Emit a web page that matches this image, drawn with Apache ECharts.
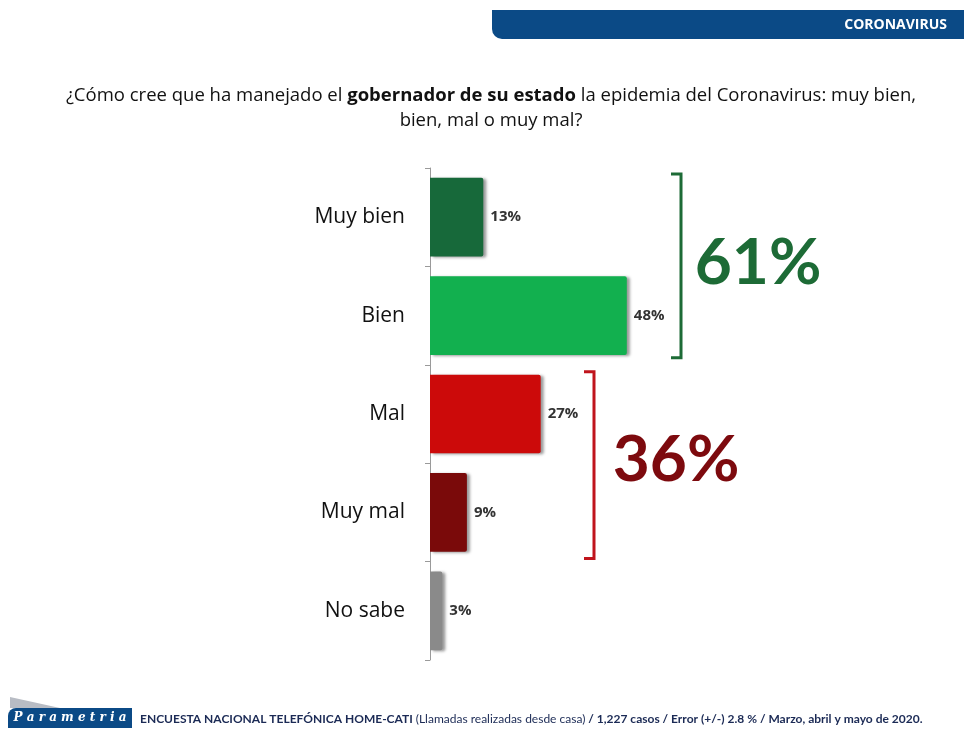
<!DOCTYPE html>
<html><head><meta charset="utf-8">
<script src="https://cdn.jsdelivr.net/npm/echarts@6/dist/echarts.min.js"></script>
<style>html,body{margin:0;padding:0;background:#fff}#c{width:964px;height:730px}</style>
</head><body><div id="c"></div>
<script>
const categories = ['Muy bien', 'Bien', 'Mal', 'Muy mal', 'No sabe'];
const values = [13, 48, 27, 9, 3];
const barColors = ['#17693a', '#12b04f', '#cc0a0a', '#7a0a0a', '#8a8a8a'];
const groupPositive = { label: '61%', from: 0, to: 1, color: '#1d6b36' };
const groupNegative = { label: '36%', from: 2, to: 3, color: '#7d0a0e' };

const chart = echarts.init(document.getElementById('c'));
const font = '"Open Sans", Lato, sans-serif';

const option = {
  backgroundColor: '#ffffff',
  animation: false,
  grid: { left: 430, width: 410, top: 168, height: 492 },
  xAxis: { type: 'value', min: 0, max: 100, show: false },
  yAxis: {
    type: 'category', data: categories, inverse: true,
    axisLine: { show: true, lineStyle: { color: '#9a9a9a', width: 1 } },
    axisTick: { show: true, length: 5, lineStyle: { color: '#9a9a9a' } },
    axisLabel: { color: '#111', fontSize: 21, fontFamily: font, margin: 25 }
  },
  series: [{
    type: 'bar',
    data: values.map((v, i) => ({ value: v, itemStyle: { color: barColors[i] } })),
    barCategoryGap: '20%',
    itemStyle: { borderRadius: [0, 2, 2, 0], shadowColor: 'rgba(0,0,0,0.4)', shadowBlur: 3, shadowOffsetX: 3, shadowOffsetY: 1 },
    label: {
      show: true, position: 'right', distance: 7,
      formatter: '{c}%', color: '#333', fontWeight: 'bold', fontSize: 15, fontFamily: font
    }
  }],
  graphic: []
};
chart.setOption(option);

function bracket(g) {
  const y0 = chart.convertToPixel({ yAxisIndex: 0 }, g.from);
  const y1 = chart.convertToPixel({ yAxisIndex: 0 }, g.to);
  const half = 492 / categories.length / 2;
  return { top: y0 - half + 8, bot: y1 + half - 8 };
}
const bp = bracket(groupPositive);
const bn = bracket(groupNegative);
const gx = 681, rx = 594;

const graphics = [
  { type: 'rect', shape: { x: 492, y: 10, width: 480, height: 29, r: [0, 0, 0, 10] }, style: { fill: '#0b4a86' } },
  { type: 'text', style: { text: 'CORONAVIRUS', x: 947, y: 25, align: 'right', verticalAlign: 'middle', fill: '#fff', font: 'bold 14px ' + font } },
  { type: 'text', style: {
      x: 491, y: 83, align: 'center', verticalAlign: 'top',
      rich: { n: { fill: '#111', fontSize: 18.5, fontFamily: font, lineHeight: 25 }, b: { fill: '#111', fontSize: 18.5, fontWeight: 'bold', fontFamily: font, lineHeight: 25 } },
      text: '{n|¿Cómo cree que ha manejado el }{b|gobernador de su estado}{n| la epidemia del Coronavirus: muy bien,}\n{n|bien, mal o muy mal?}'
  } },
  { type: 'polyline', shape: { points: [[gx - 10, bp.top - 2], [gx, bp.top - 2], [gx, bp.bot + 1], [gx - 10, bp.bot + 1]] }, style: { stroke: '#1d6b36', lineWidth: 3, fill: null } },
  { type: 'polyline', shape: { points: [[rx - 10, bn.top - 1], [rx, bn.top - 1], [rx, bn.bot + 5], [rx - 10, bn.bot + 5]] }, style: { stroke: '#c0141c', lineWidth: 3, fill: null } },
  { type: 'text', style: { text: groupPositive.label, x: 758, y: 263, align: 'center', verticalAlign: 'middle', fill: groupPositive.color, font: 'bold 64px Lato, sans-serif', shadowColor: 'rgba(0,0,0,0.35)', shadowBlur: 4, shadowOffsetX: 2, shadowOffsetY: 2 } },
  { type: 'text', style: { text: groupNegative.label, x: 676, y: 460, align: 'center', verticalAlign: 'middle', fill: groupNegative.color, font: 'bold 64px Lato, sans-serif', shadowColor: 'rgba(0,0,0,0.35)', shadowBlur: 4, shadowOffsetX: 2, shadowOffsetY: 2 } },
  { type: 'polygon', shape: { points: [[10, 697], [60, 708], [10, 708]] }, style: { fill: '#b8bcc4' } },
  { type: 'rect', shape: { x: 8, y: 708, width: 124, height: 20, r: [8, 0, 0, 0] }, style: { fill: '#0b4a86' } },
  { type: 'text', style: { text: 'P a r a m e t r i a', x: 70, y: 718, align: 'center', verticalAlign: 'middle', fill: '#fff', font: 'italic bold 12px "DejaVu Serif", serif' } },
  { type: 'text', style: {
      x: 140, y: 719, align: 'left', verticalAlign: 'middle',
      rich: {
        b: { fill: '#1b2a55', fontSize: 12, fontWeight: 'bold', fontFamily: 'Lato, sans-serif' },
        n: { fill: '#1b2a55', fontSize: 12, fontFamily: 'Lato, sans-serif' }
      },
      text: '{b|ENCUESTA NACIONAL TELEFÓNICA HOME-CATI }{n|(Llamadas realizadas desde casa)}{b| / 1,227 casos / Error (+/-) 2.8 % / Marzo, abril y mayo de 2020.}'
  } }
];
chart.setOption({ graphic: graphics });
</script></body></html>
